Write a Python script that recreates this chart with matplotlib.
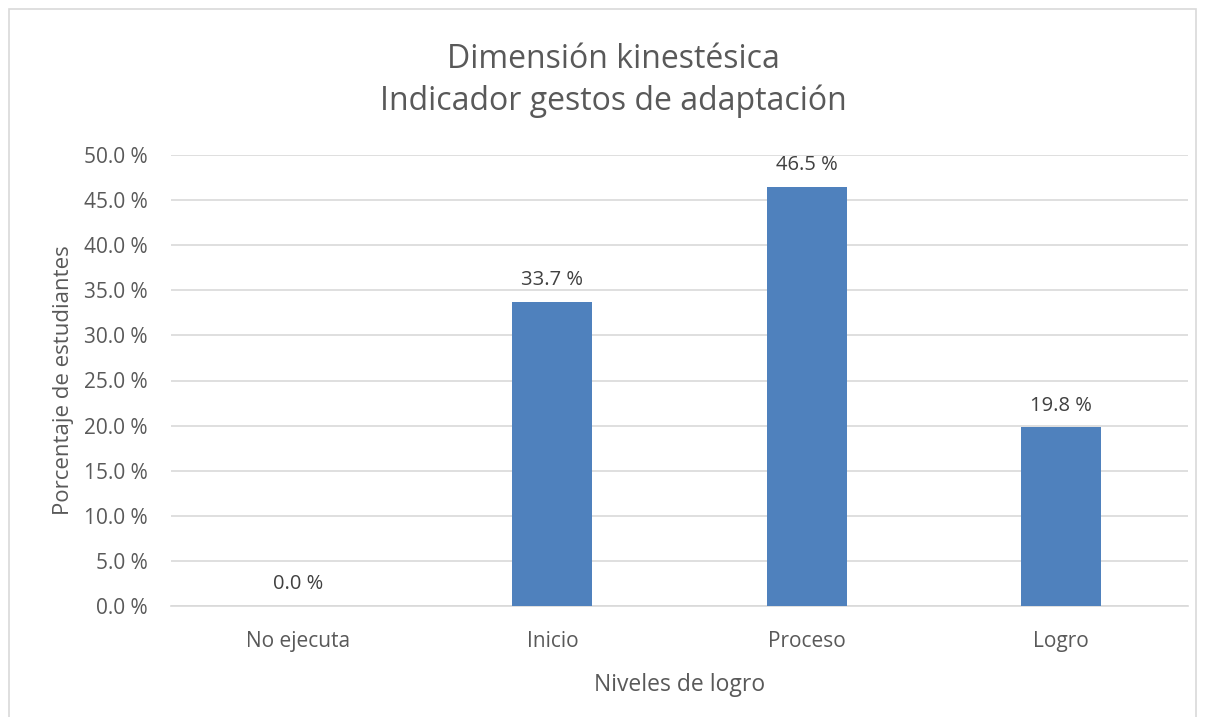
"""Dimensión kinestésica - indicador gestos de adaptación."""

import matplotlib
matplotlib.use("Agg")
import matplotlib.pyplot as plt
from matplotlib.patches import Rectangle
from matplotlib.ticker import FuncFormatter

niveles = ["No ejecuta", "Inicio", "Proceso", "Logro"]
porcentajes = [0.0, 33.7, 46.5, 19.8]
yticks = [0, 5, 10, 15, 20, 25, 30, 35, 40, 45, 50]

gris = "#595959"
plt.rcParams["font.family"] = ["Open Sans", "DejaVu Sans"]

fig = plt.figure(figsize=(12.05, 7.17), dpi=100)
ax = fig.add_axes([171 / 1205, 1 - 606 / 717, (1188 - 171) / 1205, (606 - 155) / 717])

x = range(len(niveles))
bars = ax.bar(x, porcentajes, width=0.315, color="#4f81bd", zorder=3)
for b, v in zip(bars, porcentajes):
    ax.text(b.get_x() + b.get_width() / 2, v + 1.3, f"{v:.1f} %",
            ha="center", va="bottom", fontsize=14.5, color="#404040")

ax.set_xlim(-0.5, len(niveles) - 0.5)
ax.set_ylim(0, 50)
ax.set_yticks(yticks)
ax.yaxis.set_major_formatter(FuncFormatter(lambda v, _: f"{v:.1f} %"))
ax.set_xticks(list(x))
ax.set_xticklabels(niveles)
ax.tick_params(axis="both", length=0, labelsize=15, colors=gris)
ax.tick_params(axis="x", pad=18)
ax.tick_params(axis="y", pad=17)
ax.grid(axis="y", color="#d9d9d9", linewidth=1.2, zorder=0)
for s in ["top", "right", "left"]:
    ax.spines[s].set_visible(False)
ax.spines["bottom"].set_color("#d9d9d9")
ax.spines["bottom"].set_linewidth(1.2)

ax.set_xlabel("Niveles de logro", fontsize=16.5, color=gris, labelpad=15)
ax.set_ylabel("Porcentaje de estudiantes", fontsize=16, color=gris, labelpad=7)

fig.text(613 / 1205, 1 - 59 / 717, "Dimensión kinestésica", ha="center", va="center",
         fontsize=23, color=gris)
fig.text(613 / 1205, 1 - 101 / 717, "Indicador gestos de adaptación", ha="center", va="center",
         fontsize=23, color=gris)

fig.patches.append(Rectangle((9 / 1205, -0.05), (1196 - 9) / 1205, 1.05 - 9 / 717,
                             transform=fig.transFigure, fill=False,
                             edgecolor="#d9d9d9", linewidth=1.2))

fig.savefig("out.png", dpi=100)
